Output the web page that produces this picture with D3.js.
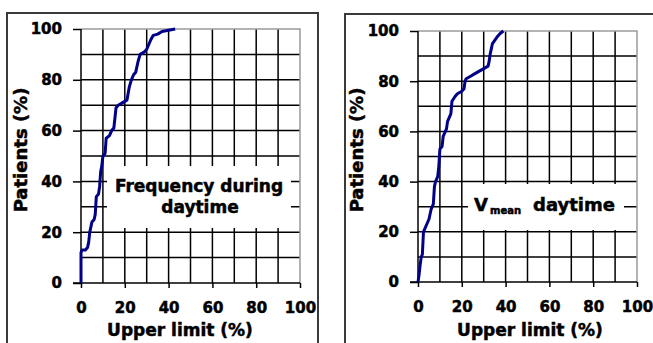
<!DOCTYPE html>
<html>
<head>
<meta charset="utf-8">
<script src="https://cdn.jsdelivr.net/npm/d3@7"></script>
<style>
  body { margin: 0; background: #fff; }
  svg { display: block; font-family: 'DejaVu Sans', sans-serif; font-weight: bold; }
  svg text { stroke: #000; stroke-width: 0.5px; }
</style>
</head>
<body>
<div id="chart"></div>
<script>
// cumulative curves: [upper limit %, patients %]
const freqDaytime = [
  [0, 0], [0, 12], [0.5, 13], [2, 13], [3, 14], [3.5, 16], [4, 20], [4.5, 22], [5, 24],
  [6, 25], [6.5, 27], [7, 34], [8, 35], [8.5, 38], [9, 44], [9.5, 46], [10, 50], [11, 51],
  [11.5, 57], [13, 58], [14, 60], [15, 61], [16, 69], [17, 70], [19, 71], [21, 72], [22, 77],
  [23, 80], [24, 82], [25, 83], [26, 87], [27, 90], [29, 91], [30, 92], [31, 94], [32, 96],
  [33, 97.5], [35, 98], [37, 99], [40, 99.5], [43, 100]
]
const vmeanDaytime = [
  [0, 0], [0.5, 3], [1, 7], [1.5, 10], [2, 11], [2.5, 20], [3, 21], [4, 23], [5, 25],
  [5.5, 27], [6, 29], [7, 31], [7.5, 38], [8, 40], [9, 42], [9.5, 46], [10, 53], [11, 54],
  [11.5, 58], [13, 61], [13.5, 64], [14, 65], [15, 67], [15.5, 72], [17, 74], [18, 75],
  [20, 76], [21, 77], [21.5, 80], [22, 81], [24, 82], [26, 83], [28, 84], [30, 85], [32, 86],
  [32.5, 88], [33, 91], [34, 95], [36, 97.5], [37.5, 99], [39, 100]
]
const xTickLabels = [0, 20, 40, 60, 80, 100]
const yTickLabels = [0, 20, 40, 60, 80, 100]
const gridValues = [10, 20, 30, 40, 50, 60, 70, 80, 90]

const W = 653
const H = 343

const svg = d3.select('#chart')
  .append('svg')
  .attr('width', W)
  .attr('height', H)

function drawPanel (cfg) {
  // outer frame, open at the bottom of the window
  svg.append('rect')
    .attr('x', cfg.frame.x)
    .attr('y', cfg.frame.y)
    .attr('width', cfg.frame.w)
    .attr('height', H)
    .attr('fill', 'none')
    .attr('stroke', '#3a3a3a')
    .attr('stroke-width', 2)

  const x = d3.scaleLinear().domain([0, 100]).range([cfg.plot.left, cfg.plot.right])
  const y = d3.scaleLinear().domain([0, 100]).range([cfg.plot.bottom, cfg.plot.top])

  const g = svg.append('g')

  // grid
  g.selectAll('.vgrid')
    .data(gridValues)
    .join('line')
    .attr('x1', d => x(d)).attr('x2', d => x(d))
    .attr('y1', y(0)).attr('y2', y(100))
    .attr('stroke', '#000').attr('stroke-width', 1.5)

  g.selectAll('.hgrid')
    .data(gridValues)
    .join('line')
    .attr('y1', d => y(d)).attr('y2', d => y(d))
    .attr('x1', x(0)).attr('x2', x(100))
    .attr('stroke', '#000').attr('stroke-width', 1.5)

  // plot border top/right in grey
  g.append('path')
    .attr('d', `M${x(0)},${y(100)}H${x(100)}V${y(0)}`)
    .attr('fill', 'none')
    .attr('stroke', '#9a9a9a')
    .attr('stroke-width', 1.5)

  // white box behind the note
  g.append('rect')
    .attr('x', cfg.note.box[0])
    .attr('y', cfg.note.box[1])
    .attr('width', cfg.note.box[2])
    .attr('height', cfg.note.box[3])
    .attr('fill', '#fff')

  // axes
  const xAxis = g.append('g')
    .attr('transform', `translate(0,${y(0)})`)
    .call(d3.axisBottom(x).tickValues(xTickLabels).tickSize(5).tickPadding(14))
  const yAxis = g.append('g')
    .attr('transform', `translate(${x(0)},0)`)
    .call(d3.axisLeft(y).tickValues(yTickLabels).tickSize(8).tickPadding(11))

  for (const ax of [xAxis, yAxis]) {
    ax.select('.domain').remove()
    ax.selectAll('line').attr('stroke', '#000').attr('stroke-width', 1.5)
    ax.selectAll('text')
      .attr('fill', '#000')
      .style('font-family', "'DejaVu Sans', sans-serif")
      .style('font-weight', 'bold')
      .style('font-size', '15px')
  }

  g.append('line')
    .attr('x1', x(0) - 8).attr('x2', x(100))
    .attr('y1', y(0)).attr('y2', y(0))
    .attr('stroke', '#000').attr('stroke-width', 1.5)
  g.append('line')
    .attr('x1', x(0)).attr('x2', x(0))
    .attr('y1', y(0)).attr('y2', y(100))
    .attr('stroke', '#000').attr('stroke-width', 1.5)

  // the curve
  const line = d3.line().x(d => x(d[0])).y(d => y(d[1]))
  g.append('path')
    .datum(cfg.data)
    .attr('d', line)
    .attr('fill', 'none')
    .attr('stroke', '#000088')
    .attr('stroke-width', 3)
    .attr('stroke-linejoin', 'round')

  // axis titles
  g.append('text')
    .attr('x', cfg.xTitle[0])
    .attr('y', cfg.xTitle[1])
    .attr('text-anchor', 'middle')
    .style('font-size', '17px')
    .text('Upper limit (%)')

  g.append('text')
    .attr('transform', `translate(${cfg.yTitle[0]},${cfg.yTitle[1]}) rotate(-90)`)
    .attr('text-anchor', 'middle')
    .style('font-size', '18px')
    .text('Patients (%)')

  cfg.note.draw(g)
}

drawPanel({
  frame: { x: 7, y: 13, w: 311 },
  plot: { left: 81, right: 300, top: 29, bottom: 283 },
  data: freqDaytime,
  xTitle: [180, 336],
  yTitle: [27, 150],
  note: {
    box: [107, 166, 184, 62],
    draw: g => {
      const t = g.append('text')
        .attr('text-anchor', 'middle')
        .style('font-size', '17px')
      t.append('tspan').attr('x', 199).attr('y', 192).text('Frequency during')
      t.append('tspan').attr('x', 200).attr('y', 213).text('daytime')
    }
  }
})

drawPanel({
  frame: { x: 345, y: 14, w: 320 },
  plot: { left: 418, right: 637, top: 31, bottom: 282 },
  data: vmeanDaytime,
  xTitle: [530, 336],
  yTitle: [363, 150],
  note: {
    box: [468, 184, 156, 46],
    draw: g => {
      const t = g.append('text').attr('y', 211).style('font-size', '18px')
      t.append('tspan').attr('x', 474).text('V')
      t.append('tspan').attr('x', 490).attr('dy', 3).style('font-size', '10px').text('mean')
      t.append('tspan').attr('x', 533).attr('dy', -3).text('daytime')
    }
  }
})
</script>
</body>
</html>
